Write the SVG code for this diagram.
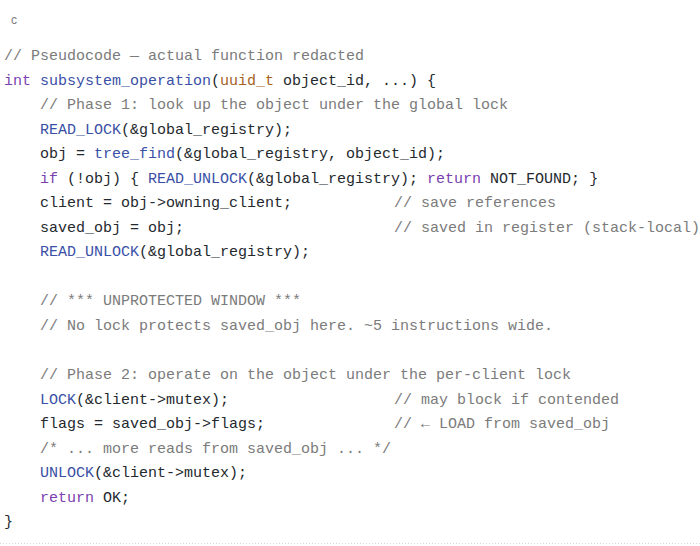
<svg xmlns="http://www.w3.org/2000/svg" width="700" height="546" viewBox="0 0 700 546">
<style>
text{font-family:"Liberation Mono","DejaVu Sans Mono",monospace;font-size:15px;fill:#24292e;white-space:pre}
.c{fill:#7b7b7b}.k{fill:#7a3fb0}.f{fill:#3a4fa6}.t{fill:#a5621f}
</style>
<rect width="700" height="546" fill="#fff"/>
<text x="11" y="24" class="c" style="font-size:12px;font-family:'Liberation Sans',sans-serif">c</text>
<g id="code" xml:space="preserve">
<text x="4" y="60" class="c">// Pseudocode — actual function redacted</text>
<text x="4" y="84.5"><tspan class="k">int</tspan> <tspan class="f">subsystem_operation</tspan>(<tspan class="t">uuid_t</tspan> object_id, ...) {</text>
<text x="40" y="109" class="c">// Phase 1: look up the object under the global lock</text>
<text x="40" y="134"><tspan class="f">READ_LOCK</tspan>(&amp;global_registry);</text>
<text x="40" y="158">obj = <tspan class="f">tree_find</tspan>(&amp;global_registry, object_id);</text>
<text x="40" y="183"><tspan class="k">if</tspan> (!obj) { <tspan class="f">READ_UNLOCK</tspan>(&amp;global_registry); <tspan class="k">return</tspan> NOT_FOUND; }</text>
<text x="40" y="207">client = obj-&gt;owning_client;<tspan x="394" class="c">// save references</tspan></text>
<text x="40" y="232">saved_obj = obj;<tspan x="394" class="c">// saved in register (stack-local)</tspan></text>
<text x="40" y="256"><tspan class="f">READ_UNLOCK</tspan>(&amp;global_registry);</text>
<text x="40" y="305" class="c">// *** UNPROTECTED WINDOW ***</text>
<text x="40" y="330" class="c">// No lock protects saved_obj here. ~5 instructions wide.</text>
<text x="40" y="379" class="c">// Phase 2: operate on the object under the per-client lock</text>
<text x="40" y="404"><tspan class="f">LOCK</tspan>(&amp;client-&gt;mutex);<tspan x="394" class="c">// may block if contended</tspan></text>
<text x="40" y="428">flags = saved_obj-&gt;flags;<tspan x="394" class="c">// ← LOAD from saved_obj</tspan></text>
<text x="40" y="453" class="c">/* ... more reads from saved_obj ... */</text>
<text x="40" y="477"><tspan class="f">UNLOCK</tspan>(&amp;client-&gt;mutex);</text>
<text x="40" y="502"><tspan class="k">return</tspan> OK;</text>
<text x="4" y="526">}</text>
</g>
<line x1="0" y1="543.5" x2="700" y2="543.5" stroke="#d8d8d8" stroke-dasharray="1 2"/>
</svg>
